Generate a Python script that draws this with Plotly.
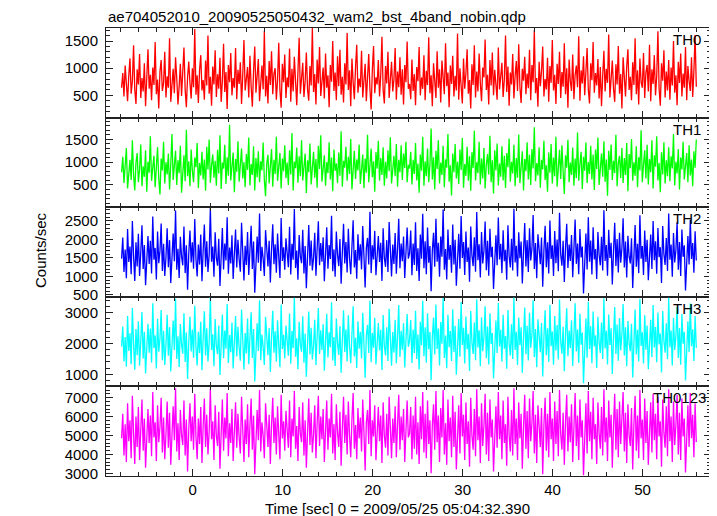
import plotly.graph_objects as go

T0 = -7.9
DT = 64.0 / 480

TH0 = [640, 910, 480, 1050, 720, 390, 860, 1180, 530, 760, 1420, 610, 340, 980, 700, 1260, 450, 820, 570, 1090,
       300, 750, 1350, 620, 880, 410, 1010, 690, 1480, 520, 790, 260, 940, 1150, 580, 720, 1300, 460, 850, 640,
       1550, 380, 710, 990, 540, 1200, 810, 330, 670, 1080, 490, 920, 1380, 600, 280, 830, 1120, 730, 440, 1000,
       650, 1720, 510, 870, 360, 960, 1240, 590, 780, 420, 1140, 680, 1600, 530, 840, 310, 1030, 700, 1330, 470,
       890, 620, 1190, 380, 760, 1450, 560, 930, 250, 1060, 740, 1280, 500, 820, 640, 1370, 430, 970, 710, 1110,
       340, 880, 1520, 590, 770, 1020, 460, 1230, 660, 290, 950, 1400, 550, 810, 1170, 390, 720, 1050, 610, 1690,
       480, 860, 350, 1130, 690, 1310, 520, 900, 1000, 420, 780, 1470, 600, 270, 1080, 740, 1250, 450, 830, 650,
       1360, 380, 990, 570, 1210, 710, 320, 940, 1560, 530, 850, 1100, 470, 760, 1290, 610, 400, 1040, 680, 1740,
       560, 890, 330, 1160, 720, 1390, 490, 800, 1010, 440, 1270, 640, 870, 280, 1060, 750, 1500, 580, 920, 410,
       1220, 670, 1340, 510, 840, 370, 1090, 700, 1650, 600, 960, 300, 1180, 740, 430, 1020, 1430, 550, 810, 650,
       1320, 460, 910, 1080, 390, 760, 1260, 620, 240, 970, 1410, 540, 830, 700, 1150, 480, 880, 1580, 600, 350,
       1040, 720, 1300, 450, 860, 1120, 570, 790, 1370, 420, 940, 650, 1200, 510, 980, 330, 1060, 740, 1490, 620,
       710, 430, 1160, 580, 890, 320, 1020, 760, 1390, 500, 830, 620, 1240, 410, 950, 690, 1570, 540, 870, 300,
       1090, 730, 450, 1310, 640, 980, 370, 1140, 800, 520, 1460, 670, 920, 280, 1050, 710, 1230, 480, 860, 590,
       1640, 420, 1000, 750, 350, 1180, 620, 910, 1350, 530, 780, 260, 1070, 690, 1420, 460, 940, 570, 1270, 720,
       390, 1010, 830, 1530, 600, 880, 330, 1150, 680, 1290, 500, 970, 740, 420, 1380, 610, 850, 1100, 470, 790,
       1600, 560, 1030, 310, 920, 700, 1260, 440, 860, 1130, 580, 1440, 650, 360, 990, 770, 1210, 520, 900, 630,
       1340, 410, 1060, 740, 1700, 540, 820, 290, 1120, 670, 950, 1400, 480, 800, 610, 1190, 380, 1040, 730, 1520,
       590, 880, 340, 1080, 710, 1300, 450, 930, 660, 1460, 520, 1000, 270, 1160, 760, 580, 1250, 430, 870, 1050,
       650, 1590, 400, 960, 720, 1220, 500, 840, 1370, 610, 350, 1090, 780, 1480, 550, 910, 680, 1170, 440, 1020,
       300, 860, 1320, 570, 990, 730, 1620, 460, 810, 1140, 620, 380, 1070, 700, 1410, 530, 890, 260, 1200, 750,
       480, 1030, 1350, 600, 840, 410, 1110, 690, 1550, 520, 960, 330, 1180, 740, 640, 1280, 450, 920, 1060, 570,
       1430, 390, 980, 710, 1240, 500, 850, 1680, 620, 310, 1090, 770, 1330, 460, 940, 590, 1150, 420, 1010, 680,
       1500, 550, 870, 320, 1120, 730, 1270, 480, 900, 640, 1390, 410, 1040, 760, 580, 1200, 470, 950, 1610, 660]

TH1 = [780, 1120, 540, 930, 1310, 420, 860, 1050, 610, 1480, 720, 380, 990, 1200, 560, 840, 1390, 470, 910, 680,
       1260, 350, 1010, 770, 1570, 590, 880, 1140, 450, 960, 1330, 640, 290, 1080, 820, 1450, 530, 1000, 730, 1190,
       400, 950, 1620, 610, 870, 1250, 500, 1040, 760, 1360, 330, 920, 1150, 580, 1710, 690, 1020, 470, 1280, 810,
       560, 1100, 890, 1420, 430, 980, 710, 1230, 620, 1060, 370, 1340, 840, 1500, 550, 930, 1170, 660, 1030, 480,
       1270, 750, 1590, 410, 990, 860, 1380, 520, 1110, 700, 1820, 600, 940, 1210, 340, 1070, 790, 1460, 570, 900,
       1300, 640, 1000, 450, 1180, 830, 1540, 490, 960, 720, 1350, 380, 1090, 670, 1240, 560, 1020, 820, 1430, 610,
       250, 970, 1160, 530, 880, 1290, 460, 1050, 740, 1560, 590, 920, 1200, 420, 1080, 800, 1370, 650, 990, 500,
       1260, 730, 1640, 380, 1010, 870, 1320, 550, 1130, 690, 1480, 600, 910, 1190, 320, 1040, 780, 1410, 510, 960,
       1230, 660, 1070, 440, 1360, 850, 1590, 570, 930, 1150, 480, 1000, 760, 1440, 620, 1100, 360, 1280, 810, 970,
       540, 1210, 700, 1680, 460, 1030, 880, 1340, 590, 1120, 740, 1510, 400, 950, 1250, 630, 1060, 820, 1390, 520,
       980, 1170, 430, 1080, 770, 1600, 560, 940, 1300, 670, 1020, 350, 1220, 860, 1470, 590, 1090, 720, 1330, 480,
       1010, 640, 1260, 800, 1550, 530, 920, 1140, 690, 1400, 460, 1050, 780, 1370, 610, 1190, 870, 1450, 560, 940,
       860, 1230, 510, 1050, 740, 1420, 600, 970, 330, 1170, 810, 1560, 480, 1020, 690, 1300, 560, 940, 1740, 620,
       1110, 400, 1250, 850, 1480, 530, 990, 720, 1360, 450, 1060, 880, 1620, 570, 930, 270, 1190, 780, 1400, 640,
       1010, 520, 1280, 830, 1530, 440, 960, 700, 1340, 590, 1130, 370, 1220, 870, 1690, 600, 1000, 760, 1450, 510,
       1080, 640, 1310, 420, 950, 1180, 730, 1580, 560, 1040, 310, 1260, 820, 1410, 490, 970, 680, 1350, 600, 1140,
       430, 1200, 890, 1520, 570, 1010, 750, 1380, 470, 1090, 660, 1610, 540, 920, 1240, 380, 1070, 800, 1440, 620,
       1160, 500, 1290, 860, 1770, 580, 980, 710, 1330, 440, 1050, 840, 1470, 610, 930, 350, 1210, 770, 1400, 530,
       1100, 690, 1560, 460, 1020, 1270, 630, 1370, 790, 300, 1150, 880, 1490, 560, 990, 720, 1320, 480, 1080, 650,
       1650, 590, 960, 1230, 410, 1120, 810, 1430, 540, 1000, 740, 1360, 620, 1170, 390, 1280, 850, 1540, 500, 940,
       1190, 680, 1460, 570, 1060, 260, 1250, 830, 1390, 610, 1030, 760, 1600, 470, 970, 1140, 650, 1310, 540, 1090,
       720, 1420, 360, 1180, 870, 1510, 590, 1000, 700, 1350, 450, 1110, 820, 1700, 560, 950, 1260, 640, 1380, 510,
       1070, 780, 1480, 420, 1150, 900, 1570, 600, 980, 340, 1220, 730, 1440, 530, 1040, 690, 1330, 580, 1130, 860,
       1620, 490, 1010, 750, 1290, 400, 1100, 840, 1450, 620, 960, 1200, 560, 1370, 710, 1060, 470, 1240, 880, 1500]

TH2 = [1480, 2050, 1120, 1730, 950, 2280, 1390, 1810, 1060, 2500, 1550, 880, 1920, 1270, 2150, 1010, 1660, 2380, 1200, 1850,
       760, 1590, 2090, 1340, 1960, 1080, 2620, 1450, 1770, 920, 2210, 1360, 1690, 2430, 1150, 1880, 1010, 1520, 2300, 1250,
       1980, 820, 1640, 2160, 1410, 2780, 1180, 1750, 960, 2070, 1530, 1300, 2350, 1090, 1840, 640, 1610, 2240, 1380, 1920,
       1210, 2550, 1470, 1000, 1860, 1320, 2130, 870, 1700, 2400, 1260, 1950, 1120, 1580, 2850, 1400, 1810, 990, 2190, 1500,
       1290, 2020, 740, 1670, 2310, 1190, 1890, 1430, 2600, 1070, 1780, 1350, 2110, 930, 1620, 2270, 1240, 1990, 1460, 1130,
       2450, 1560, 890, 1830, 1310, 2200, 1040, 1720, 2370, 1200, 1940, 560, 1650, 2080, 1370, 2700, 1150, 1800, 1480, 1010,
       2250, 1590, 1270, 1960, 840, 1740, 2410, 1330, 1870, 1100, 2160, 1520, 960, 2580, 1420, 1790, 1180, 2030, 1610, 1250,
       2340, 1050, 1880, 1450, 2820, 1230, 1700, 910, 2120, 1540, 1360, 2260, 1080, 1820, 680, 1630, 2390, 1290, 1970, 1160,
       1510, 2180, 1020, 1760, 2490, 1300, 1900, 1400, 2060, 870, 1680, 2330, 1210, 1850, 1470, 2640, 1140, 1730, 990, 2210,
       1580, 1280, 2010, 800, 1650, 2420, 1350, 1930, 1110, 2290, 1490, 1060, 1800, 2520, 1240, 1710, 940, 2140, 1430, 1870,
       1190, 2360, 1560, 700, 1770, 2040, 1320, 2750, 1090, 1840, 1460, 2230, 1030, 1620, 2090, 1390, 1910, 880, 2300, 1500,
       1260, 1980, 1120, 2470, 1600, 1000, 1860, 1340, 2170, 1070, 1750, 2560, 1220, 1890, 1410, 2080, 960, 1690, 2320, 1480,
       1620, 2240, 1030, 1890, 1310, 2460, 1150, 1760, 880, 2130, 1480, 2690, 1220, 1950, 1060, 2320, 1370, 1820, 600, 1700,
       2180, 1260, 2560, 1400, 1910, 990, 2080, 1530, 2810, 1180, 1740, 920, 2270, 1450, 1850, 1100, 2400, 1320, 1990, 750,
       1600, 2150, 1210, 2630, 1500, 1930, 1040, 2210, 1390, 1780, 860, 2350, 1570, 1280, 2060, 1130, 2740, 1440, 1870, 970,
       2200, 1350, 1690, 2480, 1170, 1960, 1020, 2290, 1520, 1800, 660, 1640, 2110, 1300, 2590, 1460, 1880, 1090, 2250, 1410,
       1720, 910, 2380, 1550, 1240, 2020, 1160, 2830, 1380, 1830, 1000, 2190, 1490, 1940, 810, 1670, 2440, 1270, 1980, 1120,
       2300, 1430, 1750, 2660, 1200, 1900, 950, 2140, 1560, 1330, 2050, 720, 1710, 2370, 1250, 1920, 1080, 2510, 1470, 1840,
       1010, 2230, 1360, 2000, 1140, 2720, 1590, 1290, 1960, 850, 1780, 2420, 1230, 1860, 1420, 2120, 980, 1660, 2540, 1340,
       1890, 1060, 2280, 1510, 1810, 540, 1630, 2160, 1190, 2600, 1400, 1970, 1050, 2330, 1460, 1740, 930, 2200, 1580, 1300,
       2070, 1160, 2790, 1420, 1850, 1020, 2260, 1500, 1910, 780, 1690, 2450, 1280, 2010, 1110, 2180, 1370, 1760, 2570, 1240,
       1940, 970, 2100, 1540, 1350, 2030, 690, 1730, 2390, 1260, 1880, 1090, 2650, 1480, 1820, 1040, 2240, 1390, 1990, 900,
       1650, 2130, 1200, 2500, 1440, 1950, 1070, 2310, 1520, 1790, 820, 2360, 1600, 1310, 2040, 1150, 2700, 1450, 1860, 990,
       2170, 1380, 1710, 2460, 1180, 1930, 1010, 2270, 1530, 1840, 620, 1680, 2090, 1320, 2530, 1470, 1900, 1100, 2220, 1430]

TH3 = [1900, 2550, 1420, 2210, 1250, 2890, 1760, 2330, 1330, 3150, 1980, 1150, 2470, 1620, 2720, 1280, 2090, 3020, 1510, 2380,
       1030, 2010, 2640, 1700, 2480, 1380, 3300, 1850, 2260, 1190, 2800, 1730, 2150, 3080, 1460, 2410, 1300, 1950, 2930, 1600,
       2520, 1090, 2080, 2740, 1790, 3450, 1500, 2230, 1240, 2630, 1960, 1670, 2980, 1400, 2350, 850, 2050, 2860, 1740, 2450,
       1540, 3220, 1880, 1290, 2380, 1690, 2700, 1130, 2170, 3040, 1610, 2490, 1420, 2020, 3500, 1790, 2300, 1260, 2790, 1920,
       1650, 2580, 980, 2130, 2940, 1520, 2420, 1830, 3280, 1370, 2270, 1720, 2680, 1190, 2060, 2890, 1580, 2540, 1870, 1440,
       3100, 1990, 1160, 2340, 1680, 2810, 1330, 2190, 3010, 1530, 2470, 770, 2100, 2650, 1760, 3400, 1460, 2290, 1890, 1300,
       2860, 2030, 1620, 2500, 1080, 2220, 3060, 1700, 2390, 1410, 2750, 1940, 1230, 3260, 1820, 2280, 1510, 2580, 2050, 1600,
       2970, 1340, 2400, 1850, 3480, 1570, 2170, 1170, 2700, 1970, 1730, 2880, 1380, 2320, 920, 2080, 3030, 1640, 2510, 1480,
       1930, 2770, 1300, 2240, 3150, 1660, 2430, 1790, 2620, 1120, 2140, 2960, 1550, 2360, 1880, 3330, 1450, 2210, 1270, 2810,
       2010, 1630, 2560, 1050, 2100, 3070, 1720, 2460, 1420, 2910, 1900, 1360, 2300, 3200, 1580, 2180, 1210, 2720, 1830, 2380,
       1510, 2990, 1990, 890, 2260, 2600, 1690, 3380, 1390, 2340, 1860, 2830, 1320, 2070, 2660, 1770, 2440, 1140, 2920, 1920,
       1610, 2520, 1430, 3120, 2040, 1280, 2370, 1710, 2760, 1360, 2230, 3240, 1560, 2410, 1800, 2650, 1220, 2150, 2950, 1890,
       2080, 2760, 1370, 2450, 1690, 3060, 1500, 2290, 1160, 2700, 1940, 3380, 1590, 2520, 1380, 2980, 1810, 2370, 810, 2210,
       2840, 1640, 3260, 1820, 2480, 1290, 2690, 1990, 3470, 1530, 2260, 1200, 2930, 1880, 2400, 1430, 3110, 1720, 2570, 990,
       2090, 2790, 1570, 3340, 1950, 2510, 1350, 2870, 1810, 2310, 1110, 3050, 2030, 1660, 2680, 1460, 3430, 1870, 2430, 1260,
       2850, 1750, 2200, 3200, 1520, 2550, 1320, 2980, 1980, 2340, 870, 2130, 2740, 1690, 3310, 1900, 2440, 1410, 2930, 1830,
       2240, 1180, 3080, 2010, 1610, 2620, 1500, 3490, 1790, 2380, 1300, 2840, 1940, 2520, 1050, 2170, 3160, 1650, 2570, 1450,
       2990, 1860, 2280, 3400, 1560, 2470, 1230, 2780, 2030, 1720, 2660, 930, 2220, 3070, 1620, 2490, 1400, 3250, 1910, 2390,
       1310, 2890, 1770, 2600, 1480, 3420, 2060, 1670, 2540, 1100, 2310, 3140, 1590, 2420, 1850, 2750, 1270, 2160, 3300, 1740,
       2450, 1370, 2960, 1960, 2350, 710, 2120, 2810, 1540, 3350, 1820, 2560, 1360, 3030, 1900, 2260, 1210, 2860, 2050, 1690,
       2680, 1500, 3460, 1840, 2410, 1320, 2940, 1950, 2490, 1010, 2190, 3180, 1660, 2610, 1440, 2820, 1780, 2300, 3280, 1610,
       2520, 1260, 2730, 2000, 1750, 2640, 900, 2250, 3100, 1640, 2440, 1420, 3440, 1920, 2360, 1350, 2910, 1800, 2580, 1170,
       2140, 2770, 1560, 3240, 1870, 2530, 1390, 3000, 1970, 2320, 1060, 3050, 2080, 1700, 2650, 1490, 3480, 1880, 2420, 1290,
       2830, 1790, 2230, 3190, 1530, 2500, 1310, 2950, 1990, 2380, 800, 2180, 2720, 1720, 3290, 1910, 2460, 1430, 2890, 1860]

TH0123 = [4850, 6150, 3950, 5600, 3600, 6700, 4700, 5800, 3800, 7100, 5100, 3500, 6000, 4400, 6500, 3700, 5300, 6900, 4200, 5900,
          3300, 5200, 6400, 4600, 6050, 3900, 7300, 4900, 5700, 3650, 6600, 4650, 5450, 7000, 4100, 5950, 3750, 5050, 6800, 4350,
          6200, 3450, 5350, 6550, 4750, 7500, 4150, 5650, 3700, 6350, 5000, 4500, 6850, 3950, 5850, 3100, 5300, 6700, 4700, 6000,
          4250, 7200, 4950, 3750, 5900, 4550, 6500, 3550, 5500, 6950, 4400, 6100, 4000, 5200, 7450, 4800, 5750, 3700, 6600, 5000,
          4450, 6250, 3250, 5450, 6900, 4200, 5950, 4850, 7250, 3900, 5650, 4600, 6400, 3650, 5300, 6750, 4350, 6150, 4900, 4050,
          7050, 5150, 3600, 5850, 4550, 6650, 3850, 5550, 6950, 4250, 6050, 2950, 5400, 6350, 4750, 7400, 4150, 5700, 5000, 3800,
          6700, 5250, 4400, 6100, 3500, 5600, 7000, 4600, 5950, 4000, 6550, 5050, 3750, 7150, 4850, 5750, 4200, 6300, 5300, 4350,
          6850, 3850, 5900, 4950, 7350, 4300, 5500, 3650, 6500, 5100, 4650, 6750, 3950, 5800, 3300, 5350, 6950, 4500, 6200, 4100,
          5050, 6600, 3800, 5650, 7100, 4450, 6000, 4800, 6400, 3600, 5450, 6850, 4250, 5900, 4900, 7200, 4050, 5600, 3700, 6650,
          5150, 4400, 6250, 3400, 5400, 7050, 4600, 6100, 4000, 6800, 5000, 3850, 5850, 7250, 4300, 5550, 3750, 6450, 4850, 5950,
          4150, 6900, 5200, 3150, 5700, 6350, 4550, 7400, 3900, 5800, 4950, 6600, 3700, 5350, 6500, 4700, 6050, 3550, 6750, 5000,
          4350, 6150, 3950, 7050, 5250, 3800, 5900, 4600, 6550, 3850, 5600, 7150, 4250, 6000, 4750, 6400, 3600, 5450, 6850, 4900,
          5100, 6500, 3750, 6050, 4300, 7050, 4000, 5700, 3500, 6550, 4800, 7300, 4100, 6150, 3800, 6850, 4550, 5800, 3000, 5550,
          6650, 4250, 7350, 4650, 6050, 3600, 6450, 4900, 7400, 4000, 5650, 3450, 6900, 4700, 5950, 3850, 7100, 4400, 6250, 3200,
          5250, 6600, 4050, 7250, 4950, 6100, 3700, 6750, 4550, 5750, 3350, 7000, 5000, 4250, 6400, 3900, 7450, 4750, 6000, 3550,
          6700, 4450, 5500, 7200, 4000, 6200, 3650, 6900, 4900, 5850, 3100, 5300, 6550, 4350, 7300, 4800, 6050, 3750, 6850, 4600,
          5600, 3400, 7050, 5000, 4150, 6350, 3950, 7500, 4550, 5900, 3700, 6750, 4850, 6150, 3250, 5450, 7150, 4300, 6300, 3800,
          6950, 4700, 5650, 7350, 4050, 6100, 3550, 6600, 5050, 4400, 6450, 2950, 5550, 7000, 4200, 6150, 3850, 7300, 4800, 5900,
          3650, 6800, 4550, 6300, 3900, 7400, 5050, 4250, 6200, 3450, 5750, 7150, 4150, 6000, 4650, 6650, 3600, 5400, 7250, 4450,
          6050, 3700, 6900, 4900, 5800, 2900, 5350, 6700, 4050, 7350, 4700, 6250, 3750, 7000, 4800, 5600, 3500, 6750, 5100, 4300,
          6500, 3950, 7450, 4650, 5950, 3650, 6850, 4900, 6100, 3300, 5500, 7200, 4250, 6400, 3850, 6800, 4550, 5700, 7300, 4150,
          6200, 3550, 6650, 5000, 4450, 6450, 3200, 5600, 7100, 4200, 6050, 3800, 7400, 4850, 5850, 3700, 6950, 4600, 6300, 3450,
          5400, 6750, 4100, 7200, 4750, 6150, 3750, 7050, 4950, 5750, 3350, 6900, 5150, 4350, 6550, 3900, 7450, 4700, 6000, 3600,
          6800, 4500, 5550, 7150, 4000, 6200, 3700, 6950, 4950, 5900, 3050, 5450, 6600, 4400, 7250, 4850, 6100, 3850, 6700, 4650]

SERIES = [TH0, TH1, TH2, TH3, TH0123]
NAMES = ["TH0", "TH1", "TH2", "TH3", "TH0123"]
COLORS = ["#ff0000", "#00ff00", "#0000ff", "#00ffff", "#ff00ff"]
YRANGES = [[90, 1740], [10, 1980], [450, 2870], [610, 3510], [2860, 7595]]
YDTICK = [500, 500, 500, 1000, 1000]
YMINOR = [100, 100, 100, 200, 200]

TITLE = "ae704052010_20090525050432_wam2_bst_4band_nobin.qdp"
XTITLE = "Time [sec] 0 = 2009/05/25 05:04:32.390"
YTITLE = "Counts/sec"

# page body adds an 8px offset; figure sized so it ends at the window edge
OFF = 8
W, H = 717 - OFF, 516 - OFF
ML, MR, MT, MB = 106 - OFF, 6, 28 - OFF, 40
FONT = "Liberation Sans, Arial, Helvetica, sans-serif"
AX = "#222222"
PW = W - ML - MR
PH = H - MT - MB
LABEL_RIGHT = [703, 703, 703, 703, 708]

t = [T0 + i * DT for i in range(len(TH0))]

fig = go.Figure()
n = len(SERIES)
for k in range(n):
    idx = "" if k == 0 else str(k + 1)
    fig.add_trace(go.Scatter(x=t, y=SERIES[k], mode="lines",
                             line=dict(color=COLORS[k], width=1.3),
                             xaxis="x" + idx, yaxis="y" + idx,
                             showlegend=False, hoverinfo="skip"))
    d0 = 1 - (k + 1) / n
    d1 = 1 - k / n
    fig.layout["yaxis" + idx] = dict(
        domain=[d0, d1], range=YRANGES[k], dtick=YDTICK[k], tick0=0,
        ticks="inside", ticklen=7, tickwidth=1, tickcolor=AX,
        mirror="allticks", showline=True, linecolor=AX, linewidth=1,
        showgrid=False, zeroline=False, anchor="x" + idx,
        minor=dict(dtick=YMINOR[k], tick0=0, ticks="inside", ticklen=4, tickcolor=AX, showgrid=False),
        tickfont=dict(family=FONT, size=15, color="black"), ticklabelstandoff=4,
    )
    fig.layout["xaxis" + idx] = dict(
        range=[-9.63, 57.6], dtick=10, tick0=0, anchor="y" + idx,
        ticks="inside", ticklen=7, tickwidth=1, tickcolor=AX,
        mirror="allticks", showline=True, linecolor=AX, linewidth=1,
        showgrid=False, zeroline=False, showticklabels=(k == n - 1),
        minor=dict(dtick=2, tick0=0, ticks="inside", ticklen=4, tickcolor=AX, showgrid=False),
        tickfont=dict(family=FONT, size=15, color="black"),
    )
    fig.add_annotation(text=NAMES[k], xref="paper", yref="y" + idx + " domain",
                       x=(LABEL_RIGHT[k] - OFF - ML) / PW, y=1, xanchor="right", yanchor="top",
                       yshift=-1, showarrow=False,
                       font=dict(family=FONT, size=15, color="black"))

fig.add_annotation(text=TITLE, xref="paper", yref="paper", x=0, y=1, xanchor="left", yanchor="bottom",
                   yshift=1, showarrow=False, font=dict(family=FONT, size=15, color="black"))
fig.add_annotation(text=XTITLE, xref="paper", yref="paper", x=(397 - OFF - ML) / PW, y=0,
                   xanchor="center", yanchor="top", yshift=-22, showarrow=False,
                   font=dict(family=FONT, size=15, color="black"))
fig.add_annotation(text=YTITLE, xref="paper", yref="paper", x=(40 - OFF - ML) / PW,
                   y=(H - MB - (250 - OFF)) / PH,
                   xanchor="center", yanchor="middle", textangle=-90, showarrow=False,
                   font=dict(family=FONT, size=15, color="black"))

fig.update_layout(width=W, height=H, margin=dict(l=ML, r=MR, t=MT, b=MB),
                  paper_bgcolor="white", plot_bgcolor="white")
fig.write_html("out.html")
